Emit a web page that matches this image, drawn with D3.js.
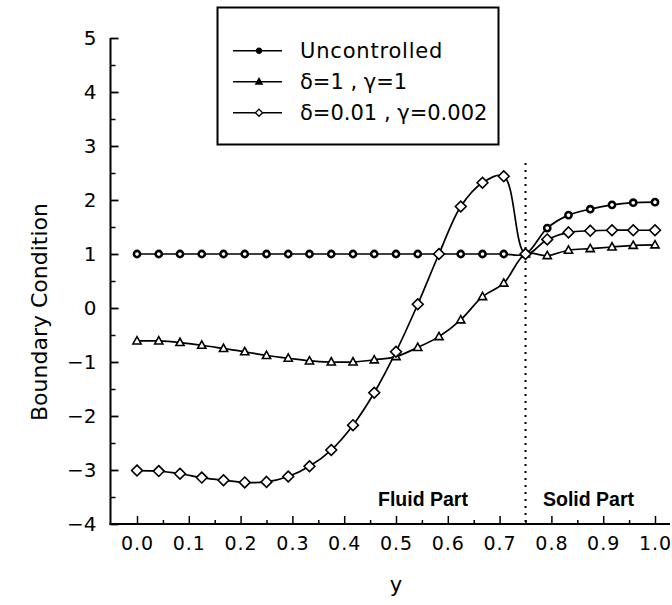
<!DOCTYPE html>
<html>
<head>
<meta charset="utf-8">
<script src="https://cdn.jsdelivr.net/npm/d3@7"></script>
<style>
  html, body { margin: 0; padding: 0; background: #fff; }
  svg { display: block; }
  text { fill: #000; }
</style>
</head>
<body>
<svg id="chart" width="672" height="605"></svg>
<script>
// Sample positions along y (fluid part 0..0.75, solid part 0.75..1)
const yPositions = [0.000, 0.042, 0.083, 0.125, 0.167, 0.208, 0.250, 0.292, 0.333,
  0.375, 0.417, 0.458, 0.500, 0.542, 0.583, 0.625, 0.667, 0.708, 0.750,
  0.792, 0.833, 0.875, 0.917, 0.958, 1.000];

// Boundary condition values for each case
const uncontrolled = [1.00, 1.00, 1.00, 1.00, 1.00, 1.00, 1.00, 1.00, 1.00,
  1.00, 1.00, 1.00, 1.00, 1.00, 1.00, 1.00, 1.00, 1.00, 1.00,
  1.48, 1.72, 1.83, 1.91, 1.95, 1.96];
const delta1Gamma1 = [-0.61, -0.61, -0.64, -0.69, -0.75, -0.81, -0.88, -0.93, -0.98,
  -1.00, -1.00, -0.96, -0.90, -0.73, -0.53, -0.22, 0.21, 0.46, 1.00,
  0.97, 1.07, 1.10, 1.13, 1.16, 1.17];
const delta001Gamma0002 = [-3.01, -3.02, -3.07, -3.14, -3.19, -3.23, -3.22, -3.12, -2.93,
  -2.63, -2.17, -1.57, -0.81, 0.07, 1.00, 1.88, 2.32, 2.44, 1.00,
  1.27, 1.40, 1.43, 1.44, 1.44, 1.44];

const seriesNames = ["Uncontrolled", "\u03B4=1 , \u03B3=1", "\u03B4=0.01 , \u03B3=0.002"];
const seriesShapes = ["circle", "triangle", "diamond"];

const xTicks = [0.0, 0.1, 0.2, 0.3, 0.4, 0.5, 0.6, 0.7, 0.8, 0.9, 1.0];
const xMinorTicks = [0.05, 0.15, 0.25, 0.35, 0.45, 0.55, 0.65, 0.75, 0.85, 0.95];
const yTicks = [-4, -3, -2, -1, 0, 1, 2, 3, 4, 5];
const yMinorTicks = [-3.5, -2.5, -1.5, -0.5, 0.5, 1.5, 2.5, 3.5, 4.5];
const interfaceY = 0.75;
const regionLabels = ["Fluid Part", "Solid Part"];

const svg = d3.select("#chart");
const FONT = "'DejaVu Sans', sans-serif";
const BOLD_FONT = "'Liberation Sans', Arial, sans-serif";

const x = d3.scaleLinear().domain([0, 1]).range([137, 655]);
const y = d3.scaleLinear().domain([-4, 5]).range([524, 38]);

const axisLeftX = 110.5;
const axisBottomY = y(-4);

// y axis: ticks pointing inward
const gy = svg.append("g").attr("transform", `translate(${axisLeftX},0)`);
gy.call(d3.axisLeft(y).tickValues(yTicks).tickSize(-8).tickPadding(14)
  .tickFormat(d => d < 0 ? "\u2212" + Math.abs(d) : String(d)));
gy.selectAll(".tick line").attr("stroke", "#000").attr("stroke-width", 1.8);
gy.select(".domain").remove();
gy.selectAll(".tick text").attr("font-family", FONT).attr("font-size", 20).attr("fill", "#000");
const gyMinor = svg.append("g").attr("transform", `translate(${axisLeftX},0)`);
gyMinor.call(d3.axisLeft(y).tickValues(yMinorTicks).tickSize(-5).tickFormat(""));
gyMinor.select(".domain").remove();
gyMinor.selectAll(".tick line").attr("stroke", "#000").attr("stroke-width", 1.5);

// x axis: ticks pointing upward
const gx = svg.append("g").attr("transform", `translate(0,${axisBottomY})`);
gx.call(d3.axisBottom(x).tickValues(xTicks).tickSize(-8).tickPadding(12.5)
  .tickFormat(d3.format(".1f")));
gx.select(".domain").remove();
gx.selectAll(".tick line").attr("stroke", "#000").attr("stroke-width", 1.5);
gx.selectAll(".tick text").attr("font-family", FONT).attr("font-size", 19)
  .attr("letter-spacing", 1).attr("fill", "#000");
const gxMinor = svg.append("g").attr("transform", `translate(0,${axisBottomY})`);
gxMinor.call(d3.axisBottom(x).tickValues(xMinorTicks).tickSize(-4).tickFormat(""));
gxMinor.select(".domain").remove();
gxMinor.selectAll(".tick line").attr("stroke", "#000").attr("stroke-width", 1.5);

// axis lines
svg.append("line").attr("x1", axisLeftX).attr("x2", axisLeftX)
  .attr("y1", y(5)).attr("y2", axisBottomY + 1)
  .attr("stroke", "#000").attr("stroke-width", 2);
svg.append("line").attr("x1", axisLeftX - 1).attr("x2", 670)
  .attr("y1", axisBottomY).attr("y2", axisBottomY)
  .attr("stroke", "#000").attr("stroke-width", 2);

// axis titles
svg.append("text").attr("x", x(0.5)).attr("y", 592)
  .attr("text-anchor", "middle").attr("font-family", FONT).attr("font-size", 21)
  .text("y");
svg.append("text").attr("transform", "translate(39,312) rotate(-90)")
  .attr("text-anchor", "middle").attr("dominant-baseline", "central")
  .attr("font-family", FONT).attr("font-size", 22)
  .text("Boundary Condition");

// fluid / solid interface
svg.append("line").attr("x1", x(interfaceY)).attr("x2", x(interfaceY))
  .attr("y1", 163).attr("y2", axisBottomY)
  .attr("stroke", "#000").attr("stroke-width", 2).attr("stroke-dasharray", "2,5");

svg.append("text").attr("x", 378).attr("y", 506)
  .attr("font-family", BOLD_FONT).attr("font-weight", "bold")
  .attr("font-size", 19.5).text(regionLabels[0]);
svg.append("text").attr("x", 543).attr("y", 506)
  .attr("font-family", BOLD_FONT).attr("font-weight", "bold")
  .attr("font-size", 19.5).text(regionLabels[1]);

// curves
const allSeries = [uncontrolled, delta1Gamma1, delta001Gamma0002];
const line = d3.line()
  .x(d => x(d[0])).y(d => y(d[1]))
  .curve(d3.curveCatmullRom.alpha(0.5));

function markerPath(shape, s) {
  if (shape === "triangle") {
    return `M0,${-s}L${s * 0.95},${s * 0.7}L${-s * 0.95},${s * 0.7}Z`;
  }
  if (shape === "diamond") {
    return `M0,${-s}L${s},0L0,${s}L${-s},0Z`;
  }
  return d3.symbol(d3.symbolCircle, Math.PI * s * s)();
}

allSeries.forEach((vals) => {
  const pts = yPositions.map((p, k) => [p, vals[k]]);
  svg.append("path").datum(pts).attr("d", line)
    .attr("fill", "none").attr("stroke", "#000").attr("stroke-width", 1.7);
});

const markerSize = [3.1, 4.3, 5.4];
const markerStroke = [2.6, 1.6, 1.6];
allSeries.forEach((vals, i) => {
  const pts = yPositions.map((p, k) => [p, vals[k]]);
  svg.append("g").selectAll("path").data(pts).join("path")
    .attr("transform", d => `translate(${x(d[0])},${y(d[1])})`)
    .attr("d", markerPath(seriesShapes[i], markerSize[i]))
    .attr("fill", "#fff").attr("stroke", "#000")
    .attr("stroke-width", markerStroke[i]);
});

// legend
const legend = svg.append("g");
legend.append("rect").attr("x", 217.5).attr("y", 7.5).attr("width", 281).attr("height", 137)
  .attr("fill", "#fff").attr("stroke", "#000").attr("stroke-width", 2);
const legendRows = [50.7, 81.7, 112.7];
const legendMarkerSize = [2.6, 3.4, 3.6];
const legendSpacing = [0.8, 0, 0];
seriesNames.forEach((name, i) => {
  const g = legend.append("g").attr("transform", `translate(0,${legendRows[i]})`);
  g.append("line").attr("x1", 233).attr("x2", 282).attr("y1", 0).attr("y2", 0)
    .attr("stroke", "#000").attr("stroke-width", 1.6);
  g.append("path").attr("transform", "translate(259,0)")
    .attr("d", markerPath(seriesShapes[i], legendMarkerSize[i]))
    .attr("fill", i === 2 ? "#fff" : "#000").attr("stroke", "#000").attr("stroke-width", 1.3);
  g.append("text").attr("x", 300).attr("y", 7.5)
    .attr("letter-spacing", legendSpacing[i])
    .attr("font-family", FONT).attr("font-size", 21).text(name);
});
</script>
</body>
</html>
